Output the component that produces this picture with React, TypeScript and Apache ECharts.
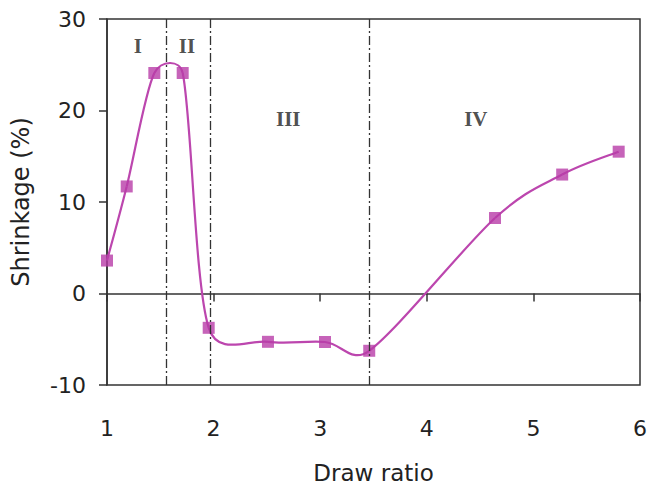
import React, { useEffect, useRef } from "react";
import * as echarts from "echarts";

const drawRatio = [1.0, 1.185, 1.444, 1.71, 1.954, 2.51, 3.045, 3.46, 4.64, 5.27, 5.8];
const shrinkage = [3.6, 11.7, 24.1, 24.1, -3.75, -5.28, -5.3, -6.26, 8.25, 13.0, 15.5];
const boundaries = [1.56, 1.965, 3.465];
const regionLabels = ["I", "II", "III", "IV"];
const regionLabelPos = [
  [1.29, 27.1],
  [1.75, 27.1],
  [2.7, 19.1],
  [4.46, 19.1],
];
const xTicks = [1, 2, 3, 4, 5, 6];
const yTicks = [-10, 0, 10, 20, 30];

const LINE_COLOR = "#BC46AE";
const MARK_COLOR = "#B83CA8";
const TENSION = 1 / 6;

type Pt = number[];

// Spreadsheet-style smoothing: tangent from neighbours, control arm capped at half the segment.
function arm(from: Pt, to: Pt, segLen: number): Pt {
  let dx = (to[0] - from[0]) * TENSION;
  let dy = (to[1] - from[1]) * TENSION;
  const len = Math.hypot(dx, dy);
  const cap = segLen / 2;
  if (len > cap && len > 0) {
    dx *= cap / len;
    dy *= cap / len;
  }
  return [dx, dy];
}

export default function App() {
  const ref = useRef<HTMLDivElement>(null);
  useEffect(() => {
    if (!ref.current) return;
    document.body.style.margin = "0";
    const chart = echarts.init(ref.current, undefined, { renderer: "svg" });
    const tickText = { fontFamily: "DejaVu Sans", fontSize: 22, color: "#222" };
    chart.setOption({
      animation: false,
      backgroundColor: "#fff",
      grid: {
        left: 107,
        top: 19,
        right: 10,
        bottom: 102,
        show: true,
        borderColor: "#333",
        borderWidth: 1.5,
      },
      xAxis: {
        type: "value",
        min: xTicks[0],
        max: xTicks[xTicks.length - 1],
        interval: 1,
        name: "Draw ratio",
        nameLocation: "middle",
        nameGap: 76,
        nameTextStyle: { fontFamily: "DejaVu Sans", fontSize: 23, color: "#222" },
        axisLine: { lineStyle: { color: "#333", width: 1.5 } },
        axisTick: { show: true, length: 8, lineStyle: { color: "#333", width: 1.5 } },
        axisLabel: { ...tickText, margin: 32 },
        splitLine: { show: false },
      },
      yAxis: {
        type: "value",
        min: yTicks[0],
        max: yTicks[yTicks.length - 1],
        interval: 10,
        name: "Shrinkage (%)",
        nameLocation: "middle",
        nameGap: 74,
        nameTextStyle: { fontFamily: "DejaVu Sans", fontSize: 24, color: "#222" },
        axisLine: { show: true, lineStyle: { color: "#333", width: 1.5 } },
        axisTick: { show: true, length: 8, lineStyle: { color: "#333", width: 1.5 } },
        axisLabel: { ...tickText, margin: 21 },
        splitLine: { show: false },
      },
      series: [
        {
          type: "custom",
          silent: true,
          data: [[drawRatio[0], shrinkage[0]]],
          z: 2,
          renderItem: (_params: any, api: any) => {
            const pts: Pt[] = drawRatio.map((x, i) => api.coord([x, shrinkage[i]]));
            const children: any[] = [];
            for (let i = 0; i < pts.length - 1; i++) {
              const p0 = pts[i - 1] || pts[i];
              const p1 = pts[i];
              const p2 = pts[i + 1];
              const p3 = pts[i + 2] || pts[i + 1];
              const seg = Math.hypot(p2[0] - p1[0], p2[1] - p1[1]);
              const a1 = arm(p0, p2, seg);
              const a2 = arm(p1, p3, seg);
              children.push({
                type: "bezierCurve",
                shape: {
                  x1: p1[0],
                  y1: p1[1],
                  cpx1: p1[0] + a1[0],
                  cpy1: p1[1] + a1[1],
                  cpx2: p2[0] - a2[0],
                  cpy2: p2[1] - a2[1],
                  x2: p2[0],
                  y2: p2[1],
                },
                style: { fill: "none", stroke: LINE_COLOR, lineWidth: 2.2 },
              });
            }
            return { type: "group", children };
          },
        },
        {
          type: "scatter",
          data: drawRatio.map((x, i) => [x, shrinkage[i]]),
          symbol: "rect",
          symbolSize: 12,
          itemStyle: { color: MARK_COLOR },
          z: 3,
          markLine: {
            silent: true,
            symbol: "none",
            label: { show: false },
            lineStyle: { color: "#333", width: 1.3, type: [9, 3, 2, 3] },
            data: boundaries.map((b) => ({ xAxis: b })),
          },
        },
        {
          type: "scatter",
          data: regionLabelPos.map((p, i) => ({ value: p, name: regionLabels[i] })),
          symbolSize: 0,
          silent: true,
          label: {
            show: true,
            position: "inside",
            formatter: (p: any) => p.name,
            fontFamily: "Liberation Serif",
            fontWeight: "bold",
            fontSize: 21,
            color: "#222",
          },
        },
      ],
    });
    return () => chart.dispose();
  }, []);
  return (
    <div
      ref={ref}
      style={{ position: "absolute", left: 0, top: 0, width: 650, height: 489 }}
    />
  );
}
